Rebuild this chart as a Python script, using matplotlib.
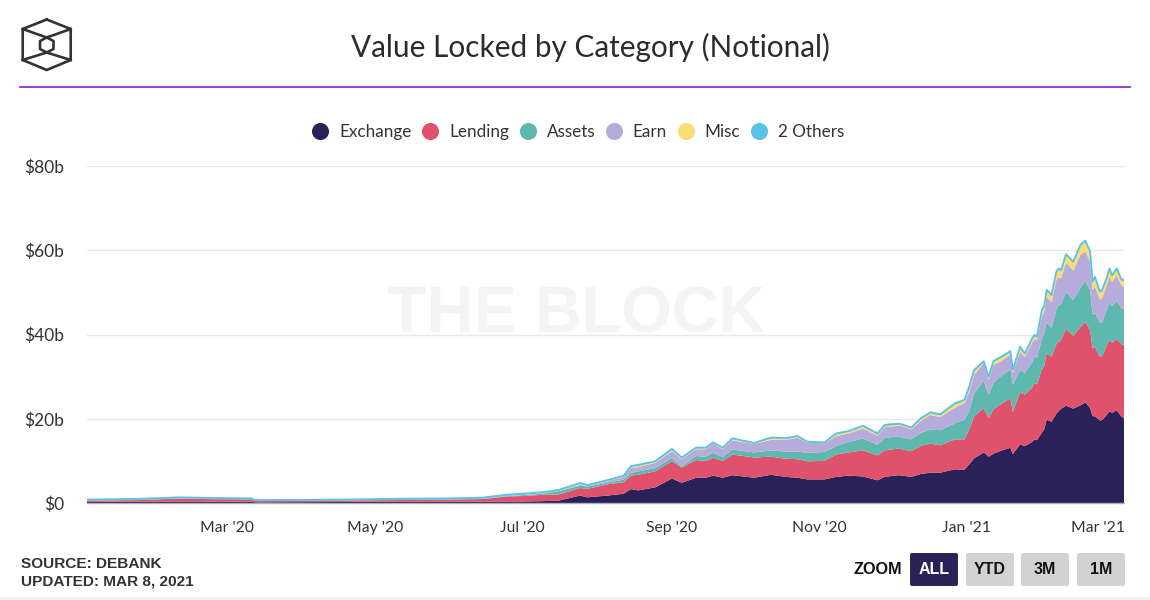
import numpy as np
import pandas as pd
import matplotlib
matplotlib.use('Agg')
import matplotlib.pyplot as plt
import matplotlib.dates as mdates
from matplotlib.lines import Line2D
from matplotlib.patches import FancyBboxPatch, Rectangle
from matplotlib.transforms import ScaledTranslation

### chart values, in billions of dollars
dates = ['2020-01-03','2020-01-25','2020-02-10','2020-02-25','2020-03-11','2020-03-12','2020-03-14',
    '2020-04-01','2020-04-20','2020-05-10','2020-06-01','2020-06-15','2020-06-25','2020-07-01','2020-07-10',
    '2020-07-16','2020-07-25','2020-07-28','2020-08-06','2020-08-12','2020-08-15','2020-08-18','2020-08-25',
    '2020-09-01','2020-09-05','2020-09-11','2020-09-15','2020-09-18','2020-09-22','2020-09-26','2020-10-05',
    '2020-10-12','2020-10-18','2020-10-23','2020-10-27','2020-11-03','2020-11-08','2020-11-13','2020-11-19',
    '2020-11-25','2020-11-28','2020-12-02','2020-12-04','2020-12-09','2020-12-13','2020-12-17','2020-12-21',
    '2020-12-27','2020-12-31','2021-01-02','2021-01-04','2021-01-08','2021-01-10','2021-01-12','2021-01-15',
    '2021-01-19','2021-01-20','2021-01-23','2021-01-25','2021-01-28','2021-01-29','2021-01-30','2021-02-01',
    '2021-02-02','2021-02-03','2021-02-05','2021-02-07','2021-02-08','2021-02-09','2021-02-11','2021-02-14',
    '2021-02-17','2021-02-19','2021-02-21','2021-02-22','2021-02-23','2021-02-25','2021-02-26','2021-02-28',
    '2021-03-01','2021-03-02','2021-03-04','2021-03-06','2021-03-07']
exchange = [.25,.3,.35,.3,.3,.2,.15,.2,.25,.3,.3,.3,.35,.35,.45,
    .55,1.75,1.35,1.8,2.2,3.3,3.0,3.7,5.8,4.8,6.0,6.0,6.5,6.0,6.6,6.0,6.7,6.2,6.0,5.6,5.6,6.2,
    6.5,6.3,5.4,6.2,6.5,6.6,6.2,6.9,7.2,7.2,8.0,7.9,9.2,10.6,12,11,11.7,12.4,13.1,11.6,13.9,13.5,
    14.5,15.1,14.9,16.7,17.5,19.8,19.3,21.2,21.8,22.4,23.1,22.4,23.2,23.9,22.5,20.6,20.6,19.6,19.7,21,
    21.8,21.4,22,20.5,20.1]
lending = [.3,.4,.7,.6,.55,.3,.3,.3,.35,.4,.5,.65,1.2,1.3,1.5,
    1.45,1.8,2.0,2.7,2.7,3.2,3.7,3.8,4.1,3.6,4.2,4.0,4.2,4.0,4.9,4.8,4.3,4.3,4.4,4.3,4.4,5.3,
    5.5,6.2,5.9,6.3,6.3,6.3,6.1,6.7,6.9,6.5,7.1,7.2,8.3,10,10.5,9.2,10.5,11,11.8,10,12.4,12.2,
    12.9,13.4,13.2,15,15,15.8,15.4,16.5,16.5,16.3,18.3,17.3,18.6,19.1,18.4,16.1,16.5,15.1,15.2,16.5,
    17,16.6,16.9,17.2,17.4]
assets = [.05,.05,.05,.05,.05,.03,.03,.03,.03,.04,.05,.05,.1,.2,.3,
    .8,.55,.55,.4,.65,.65,.8,.8,.8,.25,.95,1.0,1.2,.95,1.2,1.2,1.5,1.7,1.8,2.0,2.1,2.0,
    2.5,2.8,2.5,2.9,3.0,2.8,2.8,3.1,3.3,3.6,3.8,4.7,4.3,5.5,6.5,5.5,6.3,6.7,6.9,6.5,5.3,5.2,
    6.0,6.4,6.3,7.3,7.7,7.3,6.8,8.2,8.7,8.5,8.7,8.5,9.3,9.8,9.6,8.0,8.0,8.0,8.0,8.6,
    8.9,8.7,9.0,8.5,8.6]
earn = [.03,.03,.05,.04,.04,.02,.02,.02,.02,.03,.03,.05,.05,.05,.1,
    .1,.25,.15,.4,.65,1.2,1.0,1.2,1.6,1.75,1.6,1.75,2.2,1.8,2.2,2.0,2.5,2.8,3.3,2.4,2.1,2.4,
    2.0,2.4,2.2,2.6,2.4,2.7,2.4,2.8,3.5,3.1,3.7,3.9,4.7,4.3,4.2,3.5,4.3,3.5,3.4,2.8,4.3,3.8,
    4.6,4.0,4.2,5.3,5.2,6.1,6.2,7.0,6.6,6.2,6.9,7.0,7.8,6.9,6.8,5.9,6.3,5.6,5.8,5.8,
    6.1,5.7,6.1,5.3,5.3]
misc = [.02,.02,.03,.03,.03,.01,.01,.01,.01,.02,.02,.02,.02,.05,.1,
    .1,.25,.1,.15,.15,.25,.3,.25,.3,.25,.25,.25,.15,.25,.3,.15,.4,.25,.25,.15,.1,.4,
    .4,.5,.25,.3,.3,.3,.3,.4,.4,.4,.8,.55,.8,.8,.3,.6,.8,.8,.6,.6,.8,.55,
    .8,.8,.7,1.2,1.2,1.3,1.5,1.7,1.8,1.7,1.8,1.8,2.1,2.3,2.1,1.7,1.9,1.6,1.6,1.5,
    1.6,1.5,1.5,1.3,1.3]
others = [.15,.2,.17,.18,.13,.19,.19,.19,.19,.21,.2,.23,.28,.25,.15,
    .1,.15,.1,.1,.15,.15,.25,.15,.25,.15,.15,.15,.15,.15,.15,.1,.15,.15,.15,.1,.1,.25,
    .15,.15,.25,.25,.25,.15,.15,.25,.25,.25,.25,.25,.4,.4,.15,.15,.1,.25,.25,.15,.4,.25,
    .3,.2,.2,.3,.2,.3,.2,.3,.3,.2,.3,.3,.3,.3,.3,.3,.4,.3,.3,.3,
    .3,.2,.2,.2,.3]
category_names = ['Exchange','Lending','Assets','Earn','Misc','2 Others']
category_colors = ['#2a2158','#e0526b','#5fb8ae','#b6acdb','#f7dd72','#5bc2e7']
yticks = [0,20,40,60,80]
zoom_labels = ['ALL','YTD','3M','1M']

W,H = 1150,600

def pixelx(x): return x/W
def pixely(y): return 1-y/H

def drawlogo(fig):
    ### the hexagonal logo, in pixel coordinates of the reference
    outer = [(46.7,19.5),(70.7,29),(70.7,60),(46.7,70),(22.7,60),(22.7,29),(46.7,19.5)]
    inner = [(46.7,37.5),(53.5,41),(53.5,49),(46.7,52.5),(40,49),(40,41),(46.7,37.5)]
    spokes = [[(22.7,29),(46.7,37.5),(70.7,29)],[(22.7,60),(46.7,52.5),(70.7,60)]]
    for path in [outer,inner]+spokes:
        fig.add_artist(Line2D([pixelx(p[0]) for p in path],[pixely(p[1]) for p in path],
            color='#333333',lw=1.9,solid_joinstyle='round'))

if __name__=='__main__':

    plt.rcParams['font.family'] = ['Lato','DejaVu Sans']
    fig = plt.figure(figsize=(W/100,H/100),dpi=100,facecolor='white')
    ax = fig.add_axes([pixelx(87),pixely(503),pixelx(1124-87),(503-166)/H])

    # stacked areas
    x = pd.to_datetime(dates)
    series = [exchange,lending,assets,earn,misc,others]
    ax.stackplot(x,series,colors=category_colors,lw=0,zorder=3)
    ax.plot(x,np.sum(series,axis=0),color=category_colors[5],lw=1.3,zorder=4)

    # axes
    ax.set_xlim(pd.Timestamp('2020-01-03'),pd.Timestamp('2021-03-07'))
    ax.set_ylim(0,80)
    ax.set_yticks(yticks)
    ax.set_yticklabels(['${}b'.format(t) if t>0 else '$0' for t in yticks])
    ax.xaxis.set_major_locator(mdates.MonthLocator(bymonth=[1,3,5,7,9,11]))
    ax.xaxis.set_major_formatter(mdates.DateFormatter("%b '%y"))
    ax.tick_params(axis='both',length=0,labelcolor='#333333')
    ax.tick_params(axis='y',pad=16.5,labelsize=12.5)
    ax.tick_params(axis='x',pad=13,labelsize=11.3)
    ax.grid(axis='y',color='#e8e8e8',lw=1,zorder=0)
    ax.set_axisbelow(True)
    for side in ['top','left','right']: ax.spines[side].set_visible(False)
    ax.spines['bottom'].set_color('#b0b0b8')
    ax.spines['bottom'].set_linewidth(1)
    ax.spines['bottom'].set_zorder(5)

    # last month label is pushed back inside the plot
    fig.canvas.draw()
    lastlabel = ax.get_xticklabels()[-1]
    lastlabel.set_transform(lastlabel.get_transform()+ScaledTranslation(-12/100,0,fig.dpi_scale_trans))

    # watermark
    ax.text(0.472,0.557,'THE BLOCK',transform=ax.transAxes,ha='center',va='center',
        fontsize=46.7,fontweight='bold',color='#f4f4f4',family=['Liberation Sans'],zorder=1)

    # header
    fig.text(pixelx(590),pixely(47.5),'Value Locked by Category (Notional)',ha='center',va='center',
        fontsize=21.4,color='#2b2b2b')
    fig.add_artist(Line2D([pixelx(20),pixelx(1130)],[pixely(87),pixely(87)],color='#9b3fd6',lw=1.4))
    drawlogo(fig)

    # legend
    handles = [Line2D([],[],ls='',marker='o',ms=12.3,mew=0,color=c) for c in category_colors]
    fig.legend(handles,category_names,loc='center',bbox_to_anchor=(pixelx(578),pixely(131.5)),ncol=6,
        frameon=False,fontsize=12.3,labelcolor='#333333',handletextpad=0.6,columnspacing=0.6,
        handlelength=1.0)

    # footer
    fig.text(pixelx(21),pixely(564),'SOURCE: DEBANK',fontsize=11.1,fontweight='bold',va='center',
        color='#333333',family=['Liberation Sans'])
    fig.text(pixelx(21),pixely(581),'UPDATED: MAR 8, 2021',fontsize=11.1,fontweight='bold',va='center',
        color='#333333',family=['Liberation Sans'])
    fig.text(pixelx(878),pixely(569.5),'ZOOM',fontsize=11.7,fontweight='bold',va='center',ha='center',
        color='#111111',family=['Liberation Sans'])
    for label,left in zip(zoom_labels,[910,966,1021,1077]):
        active = label=='ALL'
        box = FancyBboxPatch((pixelx(left+2),pixely(584)),44/W,29/H,
            boxstyle='round,pad=0.0017',transform=fig.transFigure,lw=0,
            facecolor='#2a2158' if active else '#d2d2d2',mutation_aspect=W/H)
        fig.add_artist(box)
        fig.text(pixelx(left+24),pixely(569.5),label,fontsize=11.5,fontweight='bold',ha='center',va='center',
            color='white' if active else '#111111',family=['Liberation Sans'])
    fig.add_artist(Rectangle((0,0),1,3/H,transform=fig.transFigure,lw=0,facecolor='#f0f0f0'))

    fig.savefig('out.png',dpi=100)
